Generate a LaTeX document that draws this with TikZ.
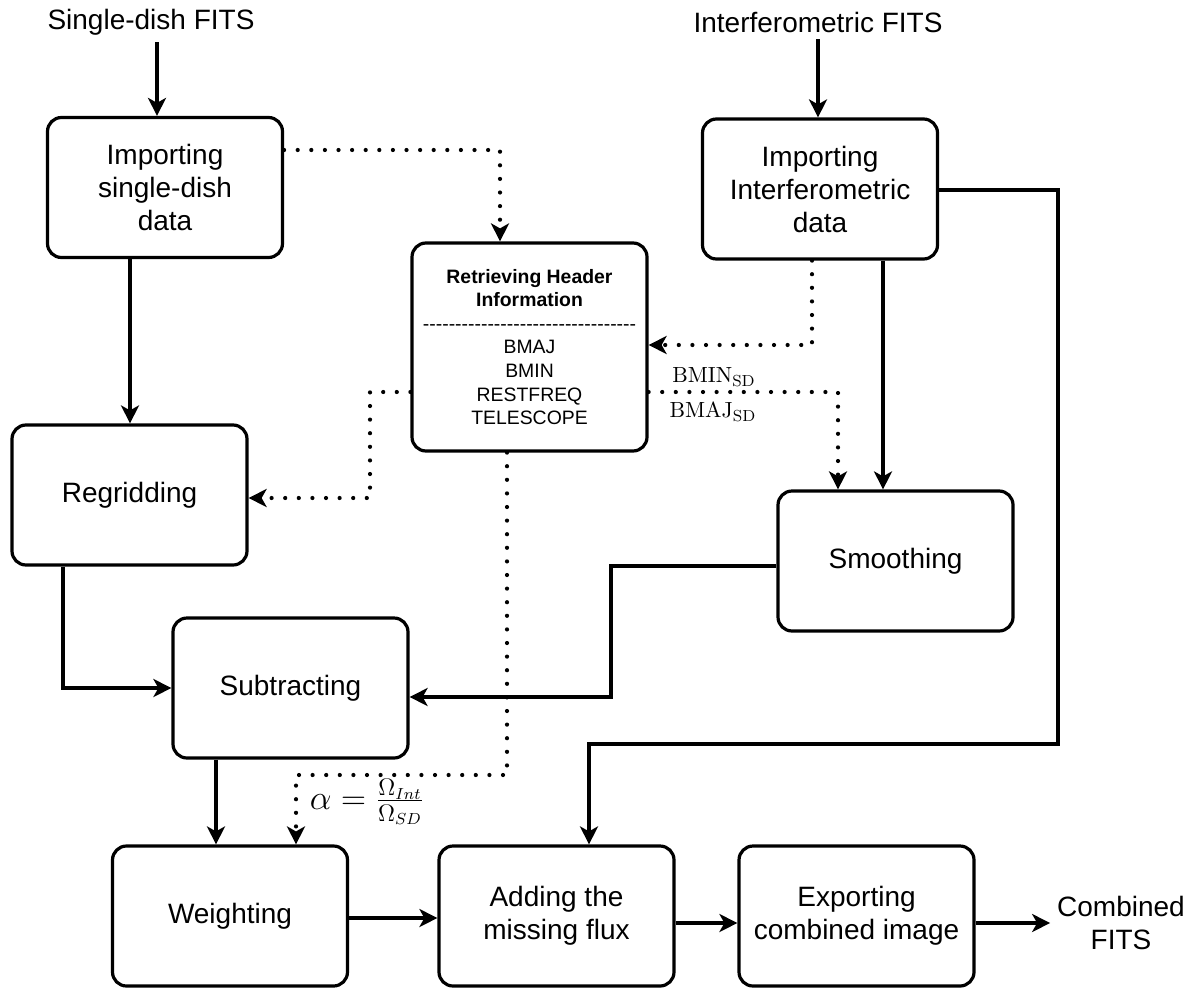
\documentclass[tikz,border=0pt]{standalone}
\usepackage[no-math]{fontspec}
\setmainfont{Liberation Sans}
\usetikzlibrary{arrows.meta}
\tikzset{
	box/.style={draw, line width=1.6pt, rounded corners=7pt, minimum width=117.5pt, minimum height=70pt, align=center, font=\fontsize{14}{16.5}\selectfont},
	plainlabel/.style={align=center, font=\fontsize{14}{16.5}\selectfont},
	mathlabel/.style={inner sep=1pt, font=\fontsize{11}{13}\selectfont},
	solidarrow/.style={line width=1.6pt, -{Stealth[length=9pt,width=9pt,inset=2.5pt]}},
	dotarrow/.style={solidarrow, line width=2.1pt, line cap=round, dash pattern=on 0pt off 6.8pt},
}
\begin{document}
\begin{tikzpicture}[x=0.5pt, y=-0.5pt]
	\useasboundingbox (0,0) rectangle (1197,990);
		\node (sdfits)[plainlabel] at (151,22) {Single-dish FITS} ;
		\node (intfits)[plainlabel] at (818,22) {Interferometric FITS} ;
		\node (sdimport)[box] at (165,187.5) {Importing\\single-dish\\data} ;
		\node (intimport)[box] at (820,189) {Importing\\Interferometric\\data} ;
		\node (header)[box, minimum height=104pt, font=\fontsize{9.7}{11.8}\selectfont] at (529.5,347)
			{\textbf{Retrieving Header}\\\textbf{Information}\\\hbox to 108pt{\cleaders\hbox{-}\hfill}\\BMAJ\\BMIN\\RESTFREQ\\TELESCOPE} ;
		\node (regrid)[box] at (129.5,495) {Regridding} ;
		\node (smooth)[box] at (895.5,561) {Smoothing} ;
		\node (subtract)[box] at (290.5,688) {Subtracting} ;
		\node (weight)[box] at (230,916) {Weighting} ;
		\node (addflux)[box] at (556.5,916) {Adding the\\missing flux} ;
		\node (export)[box] at (856.5,916) {Exporting\\combined image} ;
		\node (combined)[plainlabel] at (1121,923) {Combined\\FITS} ;
		\node (bminsd)[mathlabel] at (714,377) {$\mathrm{BMIN}_{\mathrm{SD}}$} ;
		\node (bmajsd)[mathlabel] at (713,412) {$\mathrm{BMAJ}_{\mathrm{SD}}$} ;
		\node (alpha)[mathlabel, font=\fontsize{16.5}{19}\selectfont] at (367,802) {$\alpha=\frac{\Omega_{Int}}{\Omega_{SD}}$} ;
	\draw[solidarrow] (sdfits.south -| 157,0) -- (sdimport.north -| 157,0) ;
	\draw[solidarrow] (intfits.south) -- (intimport.north -| intfits.south) ;
	\draw[solidarrow] (sdimport.south -| 130,0) -- (regrid.north -| 130,0) ;
	\draw[dotarrow] (sdimport.east |- 0,150) -- (500,150) -- (header.north -| 500,0) ;
	\draw[dotarrow] (intimport.south -| 812,0) -- (812,345) -- (header.east |- 0,345) ;
	\draw[solidarrow] (intimport.south -| 883,0) -- (smooth.north -| 883,0) ;
	\draw[dotarrow] (header.east |- 0,392) -- (838,392) -- (smooth.north -| 838,0) ;
	\draw[dotarrow] (header.west |- 0,392) -- (370,392) -- (370,498) -- (regrid.east |- 0,498) ;
	\draw[solidarrow] (regrid.south -| 63,0) -- (63,688) -- (subtract.west |- 0,688) ;
	\draw[solidarrow] (smooth.west |- 0,566) -- (611,566) -- (611,697) -- (subtract.east |- 0,697) ;
	\draw[solidarrow] (intimport.east |- 0,190) -- (1058,190) -- (1058,744) -- (589,744) -- (addflux.north -| 589,0) ;
	\draw[solidarrow] (subtract.south -| 216,0) -- (weight.north -| 216,0) ;
	\draw[dotarrow] (header.south -| 507,0) -- (507,775) -- (296,775) -- (weight.north -| 296,0) ;
	\draw[solidarrow] (weight.east |- 0,918) -- (addflux.west |- 0,918) ;
	\draw[solidarrow] (addflux.east |- 0,923) -- (export.west |- 0,923) ;
	\draw[solidarrow] (export.east |- 0,923) -- (combined.west |- 0,923) ;
\end{tikzpicture}
\end{document}
